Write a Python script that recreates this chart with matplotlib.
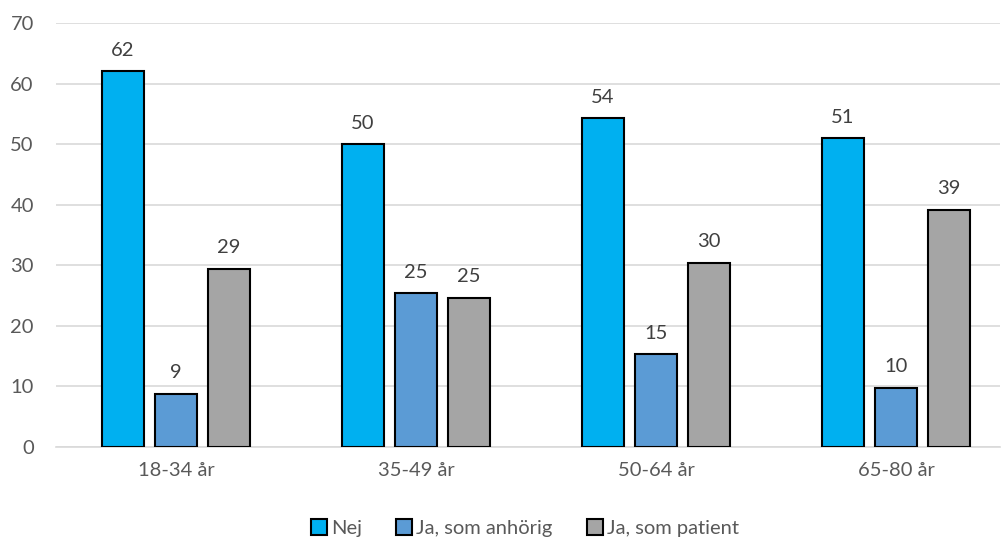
import numpy as np
import matplotlib.pyplot as plt

categories = ["18-34 år", "35-49 år", "50-64 år", "65-80 år"]
series_names = ["Nej", "Ja, som anhörig", "Ja, som patient"]
nej = [62.0, 50.0, 54.3, 51.0]
anhorig = [8.8, 25.4, 15.3, 9.8]
patient = [29.4, 24.6, 30.4, 39.2]
colors = ["#00b0f0", "#5b9bd5", "#a5a5a5"]
yticks = [0, 10, 20, 30, 40, 50, 60, 70]

plt.rcParams['font.family'] = ['Lato', 'DejaVu Sans']
text_col = "#595959"
fs = 14.5

fig = plt.figure(figsize=(10.03, 5.43), dpi=100)
ax = fig.add_axes([56 / 1003, 1 - 447 / 543, (1000 - 56) / 1003, (447 - 23) / 543])

x = np.arange(len(categories))
width = 0.175
offset = 0.221
for i, (vals, name, col) in enumerate(zip([nej, anhorig, patient], series_names, colors)):
    pos = x + (i - 1) * offset
    bars = ax.bar(pos, vals, width, color=col, edgecolor="black", linewidth=1.5,
                  label=name, zorder=3)
    for b, v in zip(bars, vals):
        ax.annotate(f"{round(v)}", (b.get_x() + b.get_width() / 2, v),
                    xytext=(0, 9), textcoords="offset points",
                    ha="center", va="bottom", fontsize=fs, color="#404040")

ax.set_xlim(-0.5, (1000 - 176) / 240)
ax.set_ylim(0, 70)
ax.set_yticks(yticks)
ax.set_xticks(x)
ax.set_xticklabels(categories)
ax.yaxis.grid(True, color="#d9d9d9", linewidth=1.2, zorder=0)
ax.tick_params(axis="both", length=0, labelsize=fs, labelcolor=text_col)
ax.tick_params(axis="x", pad=11)
ax.tick_params(axis="y", pad=16)
for s in ["top", "right", "left"]:
    ax.spines[s].set_visible(False)
ax.spines["bottom"].set_color("#d9d9d9")
ax.spines["bottom"].set_linewidth(1.2)

leg = fig.legend(loc="center", bbox_to_anchor=(525 / 1003, 1 - 528 / 543), ncol=3,
                 frameon=False, fontsize=fs, handlelength=0.8, handleheight=0.8,
                 handletextpad=0.2, columnspacing=1.7)
for t in leg.get_texts():
    t.set_color(text_col)

fig.savefig("out.png", dpi=100)
